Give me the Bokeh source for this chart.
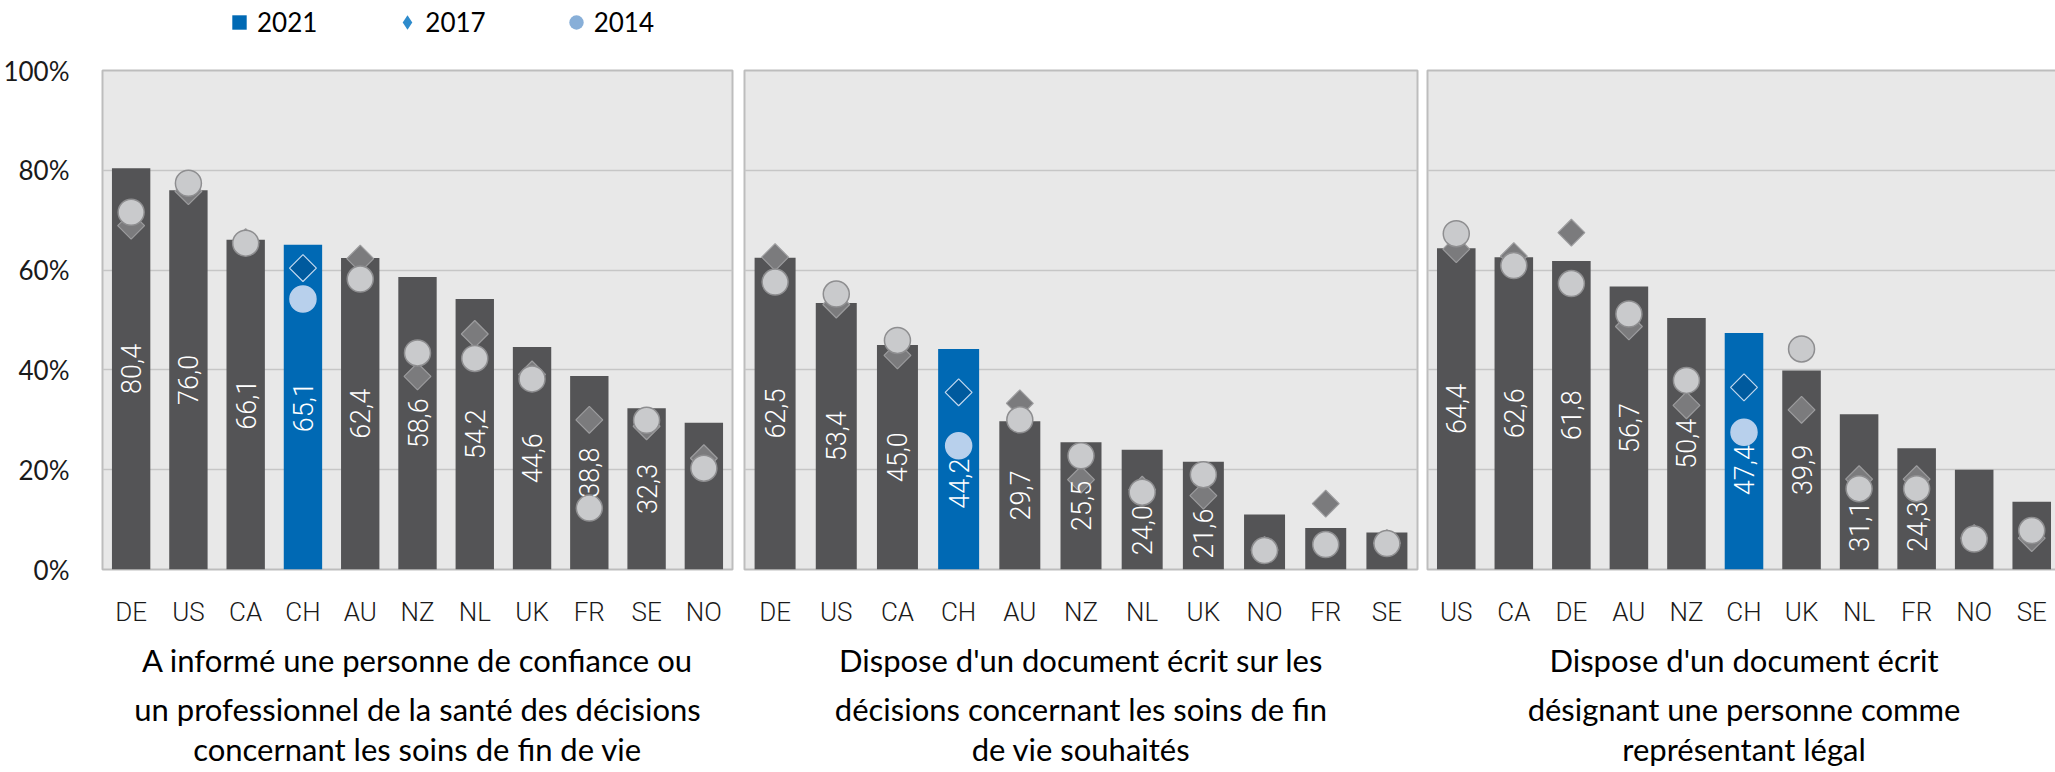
import numpy as np
from bokeh.plotting import figure
from bokeh.models import (ColumnDataSource, Range1d, FactorRange, FixedTicker,
                          PrintfTickFormatter, Title, Legend, LegendItem)
from bokeh.layouts import row, column
from bokeh.embed import file_html
from bokeh.resources import INLINE
from bokeh.core.properties import value

# ---------------- data ----------------
SERIES = ["2021", "2017", "2014"]
Y_TICKS = [0, 20, 40, 60, 80, 100]
HIGHLIGHT = "CH"

p1_countries = ["DE", "US", "CA", "CH", "AU", "NZ", "NL", "UK", "FR", "SE", "NO"]
p1_2021 = [80.4, 76.0, 66.1, 65.1, 62.4, 58.6, 54.2, 44.6, 38.8, 32.3, 29.4]
p1_2017 = [68.9, 75.8, 65.6, 60.4, 62.3, 38.7, 47.2, 39.1, 30.0, 28.7, 22.3]
p1_2014 = [71.6, 77.4, 65.4, 54.2, 58.2, 43.4, 42.3, 38.2, 12.3, 29.9, 20.3]
p1_title = ["A informé une personne de confiance ou",
            "un professionnel de la santé des décisions",
            "concernant les soins de fin de vie"]

p2_countries = ["DE", "US", "CA", "CH", "AU", "NZ", "NL", "UK", "NO", "FR", "SE"]
p2_2021 = [62.5, 53.4, 45.0, 44.2, 29.7, 25.5, 24.0, 21.6, 11.0, 8.3, 7.4]
p2_2017 = [62.6, 53.1, 42.9, 35.5, 33.3, 18.0, 16.0, 14.8, 3.9, 13.2, 5.3]
p2_2014 = [57.6, 55.2, 45.9, 24.8, 30.0, 22.8, 15.5, 19.0, 3.8, 5.0, 5.2]
p2_title = ["Dispose d'un document écrit sur les",
            "décisions concernant les soins de fin",
            "de vie souhaités"]

p3_countries = ["US", "CA", "DE", "AU", "NZ", "CH", "UK", "NL", "FR", "NO", "SE"]
p3_2021 = [64.4, 62.6, 61.8, 56.7, 50.4, 47.4, 39.9, 31.1, 24.3, 20.0, 13.6]
p3_2017 = [64.2, 62.8, 67.5, 48.7, 32.9, 36.5, 32.0, 18.1, 18.1, 6.3, 6.3]
p3_2014 = [67.3, 60.9, 57.3, 51.2, 37.9, 27.5, 44.2, 16.2, 16.2, 6.1, 7.8]
p3_title = ["Dispose d'un document écrit",
            "désignant une personne comme",
            "représentant légal"]

# ---------------- styles ----------------
BAR = "#545456"
BAR_HL = "#0069b4"
DIA = "#7b7b7d"
DIA_LINE = "#9c9c9e"
DIA_HL = "#005a9e"
DIA_HL_LINE = "#c4daf0"
CIR = "#c9cacc"
CIR_LINE = "#8e8e90"
CIR_HL = "#b8d0ec"
LEG_COLORS = ["#0069b4", "#2e8bcc", "#88afd8"]
PANEL_BG = "#e8e8e8"
LABEL_FONT = "Lato"
TICK_FONT = "Roboto Light, Roboto"
LABEL_HALF = 5.0     # half length of a vertical value label, in % units
MARK_R = 2.6         # marker radius, in % units
LEGEND_H = 40


def fmt(v):
    return ("%.1f" % v).replace(".", ",")


def label_pos(v, m1, m2):
    y = v / 2.0
    inside = [m for m in (m1, m2) if abs(m - y) < LABEL_HALF]
    if inside:
        y = min(m1, m2) - MARK_R - LABEL_HALF
    return y


def make_panel(countries, v21, v17, v14, title_lines, frame_w, left, right, show_y):
    hl = [c == HIGHLIGHT for c in countries]
    src = ColumnDataSource(dict(
        x=countries, v21=v21, v17=v17, v14=v14,
        bar_color=[BAR_HL if h else BAR for h in hl],
        d_fill=[DIA_HL if h else DIA for h in hl],
        d_line=[DIA_HL_LINE if h else DIA_LINE for h in hl],
        c_fill=[CIR_HL if h else CIR for h in hl],
        c_line=[CIR_HL if h else CIR_LINE for h in hl],
        label=[fmt(v) if (v >= 20.5 and c != "NO") else "" for c, v in zip(countries, v21)],
        label_y=[label_pos(a, b, c) for a, b, c in zip(v21, v17, v14)],
    ))
    p = figure(x_range=FactorRange(*countries), y_range=Range1d(0, 100),
               frame_width=frame_w, frame_height=499,
               min_border_left=left, min_border_right=right,
               min_border_top=70 - LEGEND_H, min_border_bottom=0,
               output_backend="svg", toolbar_location=None,
               y_axis_location="left" if show_y else None,
               background_fill_color=PANEL_BG, border_fill_color="white",
               outline_line_color="#bdbdbd", outline_line_width=2)
    p.x_range.range_padding = 0
    p.vbar(x="x", top="v21", width=0.67, fill_color="bar_color", line_color=None, source=src)
    p.scatter(x="x", y="v17", marker="square", angle=np.pi / 4, size=19,
              fill_color="d_fill", line_color="d_line", line_width=1.2, source=src)
    p.scatter(x="x", y="v14", marker="circle", size=26,
              fill_color="c_fill", line_color="c_line", line_width=1.5, source=src)
    p.text(x="x", y="label_y", text="label", angle=np.pi / 2, text_align="center",
           text_baseline="middle", text_color="white", text_font=value(TICK_FONT),
           text_font_size="27px", source=src)

    p.xgrid.visible = False
    p.ygrid.ticker = FixedTicker(ticks=Y_TICKS)
    p.ygrid.grid_line_color = "#c6c6c6"
    p.ygrid.grid_line_width = 1.5

    p.xaxis.axis_line_color = None
    p.xaxis.major_tick_line_color = None
    p.xaxis.minor_tick_line_color = None
    p.xaxis.major_label_text_font = TICK_FONT
    p.xaxis.major_label_text_font_size = "26px"
    p.xaxis.major_label_text_color = "#1a1a1a"
    p.xaxis.major_label_standoff = 21

    if show_y:
        p.yaxis.ticker = FixedTicker(ticks=Y_TICKS)
        p.yaxis.formatter = PrintfTickFormatter(format="%d%%")
        p.yaxis.axis_line_color = None
        p.yaxis.major_tick_line_color = None
        p.yaxis.minor_tick_line_color = None
        p.yaxis.major_label_text_font = LABEL_FONT
        p.yaxis.major_label_text_font_size = "26px"
        p.yaxis.major_label_text_color = "#1a1a1a"
        p.yaxis.major_label_standoff = 27

    for i, line in enumerate(title_lines):
        t = Title(text=line, align="center", text_font=LABEL_FONT,
                  text_font_size="31px", text_font_style="normal",
                  text_color="black", standoff=0 if i else 18, offset=0)
        p.add_layout(t, "below")
    return p


p1 = make_panel(p1_countries, p1_2021, p1_2017, p1_2014, p1_title, 630, 97, 6, True)
p2 = make_panel(p2_countries, p2_2021, p2_2017, p2_2014, p2_title, 673, 6, 5, False)
p3 = make_panel(p3_countries, p3_2021, p3_2017, p3_2014, p3_title, 633, 5, 0, False)

# ---------------- legend (own strip above the panels) ----------------
lg = figure(width=2055, height=LEGEND_H, x_range=Range1d(0, 1), y_range=Range1d(0, 1),
            output_backend="svg", toolbar_location=None, min_border=0,
            x_axis_location=None, y_axis_location=None, outline_line_color=None,
            background_fill_color="white", border_fill_color="white")
lg.xgrid.visible = False
lg.ygrid.visible = False
leg_src = ColumnDataSource(dict(x=[-5], y=[-5]))
r21 = lg.scatter("x", "y", marker="square", size=14, fill_color=LEG_COLORS[0],
                 line_color=None, source=leg_src)
r17 = lg.scatter("x", "y", marker="diamond", size=14,
                 fill_color=LEG_COLORS[1], line_color=None, source=leg_src)
r14 = lg.scatter("x", "y", marker="circle", size=14, fill_color=LEG_COLORS[2],
                 line_color=None, source=leg_src)
legend = Legend(items=[LegendItem(label=SERIES[0], renderers=[r21]),
                       LegendItem(label=SERIES[1], renderers=[r17]),
                       LegendItem(label=SERIES[2], renderers=[r14])],
                orientation="horizontal", location=(221, 0),
                glyph_width=36, glyph_height=36, label_standoff=0, spacing=72,
                padding=0, margin=0, border_line_color=None,
                background_fill_alpha=0, label_text_font=LABEL_FONT,
                label_text_font_size="26px", label_text_color="black",
                label_height=36)
lg.add_layout(legend)

layout = column(lg, row(p1, p2, p3))
open("out.html", "w").write(file_html(layout, INLINE))
